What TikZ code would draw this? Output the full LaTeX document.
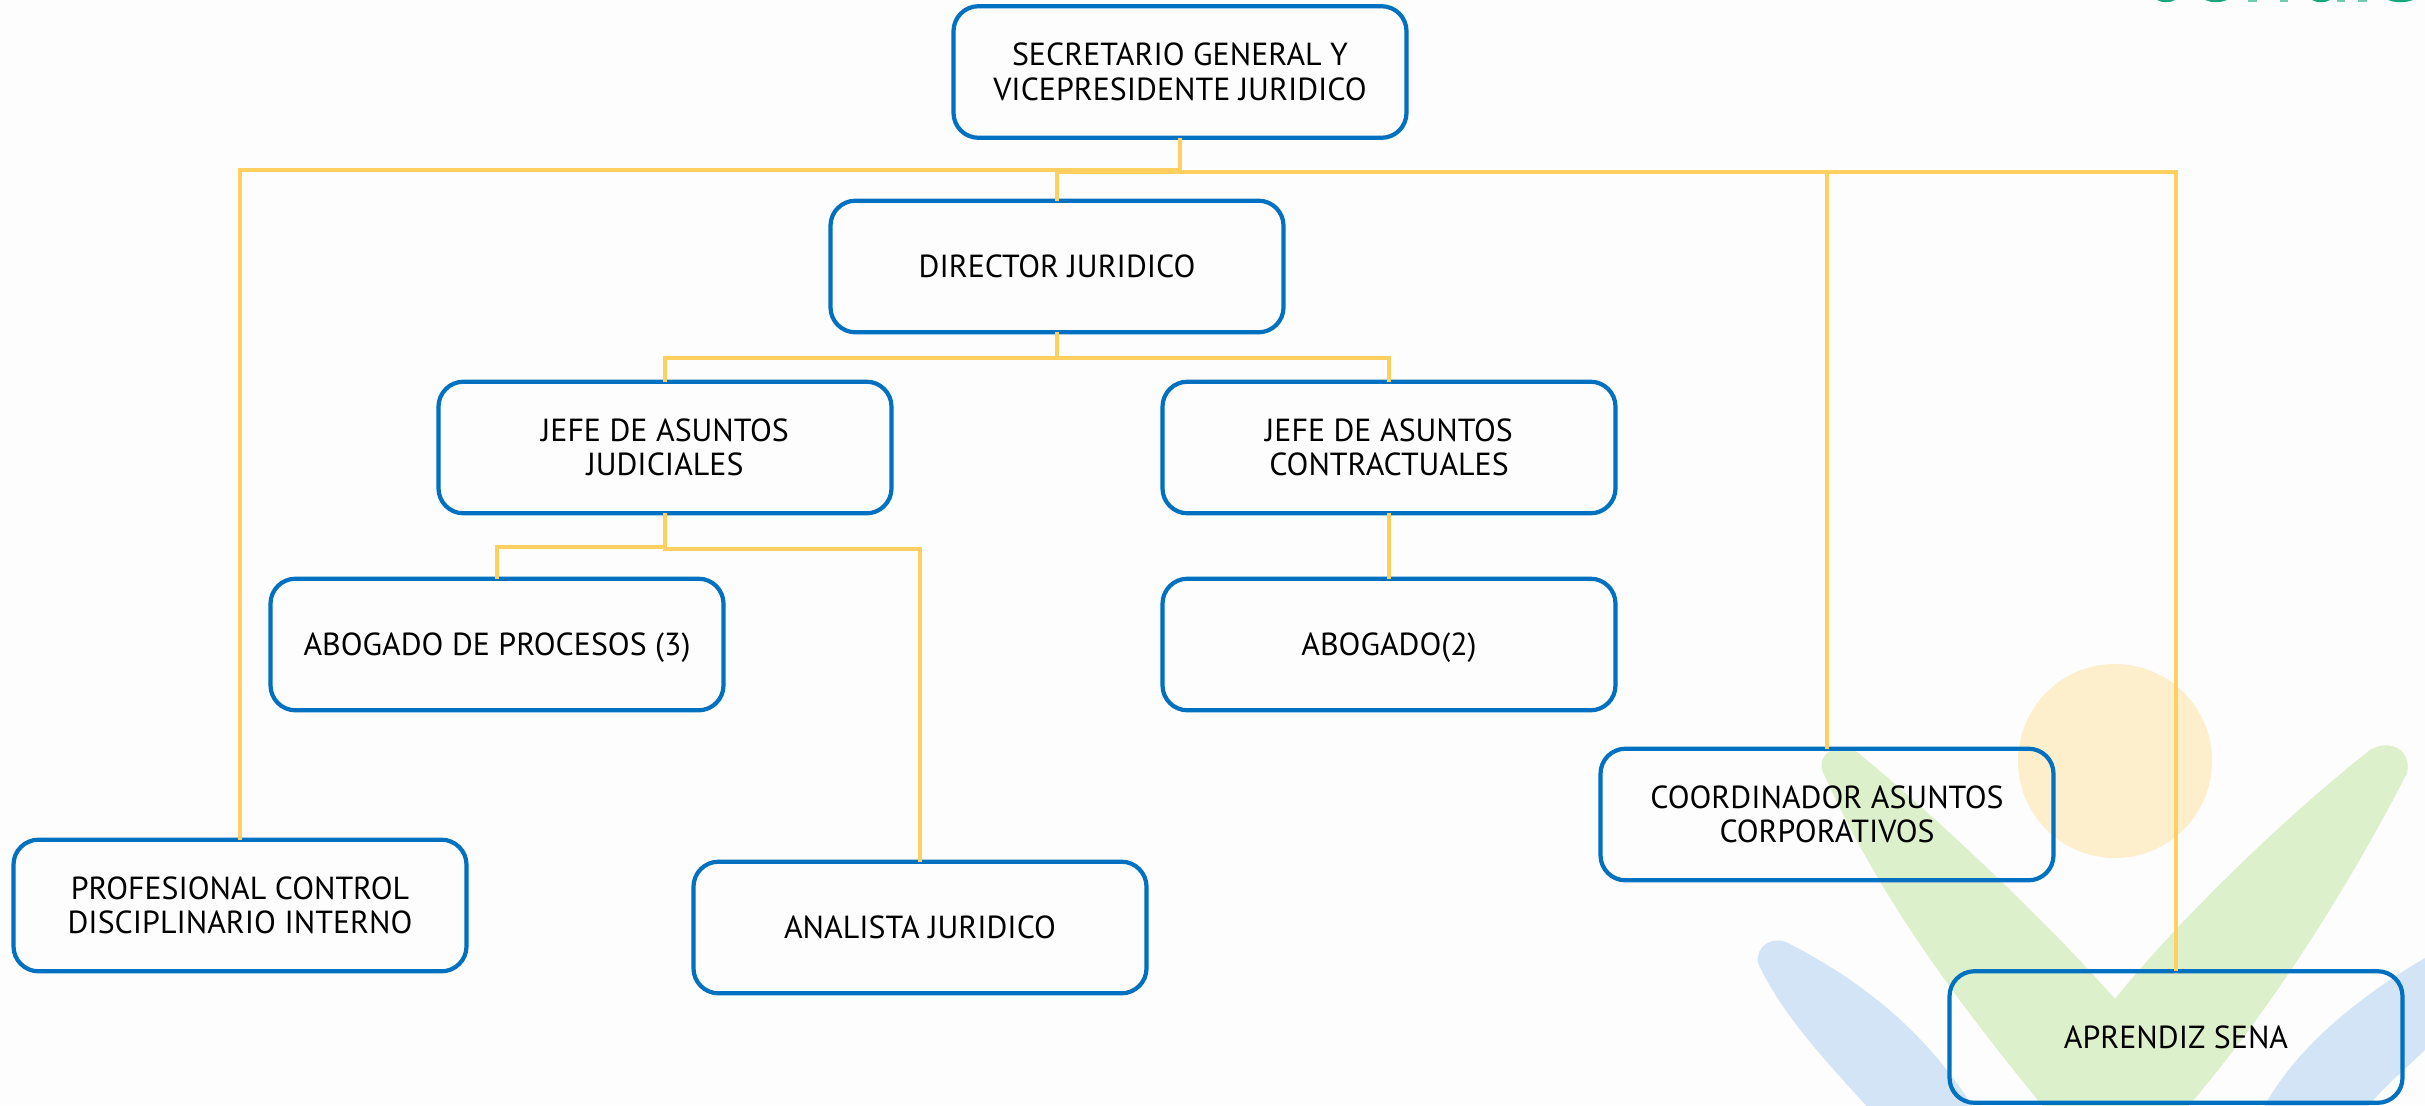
\documentclass[tikz,border=0pt]{standalone}
\usepackage{fontspec}
\setmainfont{PT Sans}
\definecolor{pagebg}{HTML}{FDFDFD}
\definecolor{boxblue}{HTML}{0070C0}
\definecolor{linegold}{HTML}{FFD05F}
\definecolor{sunfill}{HTML}{FEEFCC}
\definecolor{leafgreen}{HTML}{DCF0CB}
\definecolor{leafblue}{HTML}{D3E4F7}
\definecolor{logogreen}{HTML}{12A87C}
\tikzset{
  orgbox/.style={draw=boxblue,line width=2.1pt,rounded corners=12.5pt,minimum width=226.5pt,minimum height=65.8pt,
    inner sep=0pt,outer sep=0pt,align=center,text=black,font=\fontsize{15.95pt}{17.2pt}\selectfont},
  capline/.style={text height=11.1pt,text depth=0pt},
  conn/.style={draw=linegold,line width=2pt,line cap=butt,line join=miter},
}
\begin{document}
\begin{tikzpicture}[x=0.5pt,y=-0.5pt]
\useasboundingbox (0,0) rectangle (2425,1105);
\fill[pagebg] (0,0) rectangle (2425,1105);
\begin{scope}
\clip (0,0) rectangle (2425,1105);
% logo remnant
\fill[logogreen] (2157,0) .. controls (2162,3) and (2170,3) .. (2175,0) -- cycle;
\fill[logogreen] (2205,0) .. controls (2212,3) and (2220,3) .. (2227,0) -- cycle;
\fill[logogreen!60!white] (2248,0) rectangle (2257,1.5);
\fill[logogreen!60!white] (2280,0) rectangle (2288,1.5);
\fill[logogreen] (2312,0) .. controls (2317,3) and (2325,3) .. (2330,0) -- cycle;
\fill[logogreen!60!white] (2337,0) rectangle (2345,1.5);
\fill[logogreen!60!white] (2358,0) rectangle (2367,1.5);
\fill[logogreen] (2388,0) .. controls (2396,3) and (2405,3) .. (2413,0) -- cycle;
% emblem
\fill[sunfill] (2115,761) ellipse [x radius=97,y radius=97];
\fill[leafblue] (1758,963) .. controls (1755,947) and (1772,935) .. (1788,943)
  .. controls (1860,980) and (1925,1030) .. (1975,1110) -- (1870,1110)
  .. controls (1825,1060) and (1782,1015) .. (1758,963) -- cycle;
\fill[leafblue] (2430,955) .. controls (2370,990) and (2300,1040) .. (2262,1110)
  -- (2365,1110) .. controls (2385,1085) and (2410,1065) .. (2430,1045) -- cycle;
\fill[leafgreen] (1822,770) .. controls (1818,752) and (1838,742) .. (1857,752)
  .. controls (1940,820) and (2050,925) .. (2115,999)
  .. controls (2170,930) and (2275,825) .. (2370,750)
  .. controls (2390,738) and (2412,750) .. (2407,773)
  .. controls (2360,865) and (2280,1000) .. (2185,1110)
  -- (2046,1110) .. controls (1960,1005) and (1880,900) .. (1822,770) -- cycle;
\end{scope}
% boxes
\node[orgbox] (top) at (1180,72) {SECRETARIO GENERAL Y\\VICEPRESIDENTE JURIDICO};
\node[orgbox] (dir) at (1057,266.5) {DIRECTOR JURIDICO};
\node[orgbox] (jud) at (665,447.5) {JEFE DE ASUNTOS\\JUDICIALES};
\node[orgbox] (con) at (1389,447.5) {JEFE DE ASUNTOS\\CONTRACTUALES};
\node[orgbox,capline] (pro) at (497,644.5) {ABOGADO DE PROCESOS (3)};
\node[orgbox,capline] (abo) at (1389,644.5) {ABOGADO(2)};
\node[orgbox] (cdi) at (240,905.5) {PROFESIONAL CONTROL\\DISCIPLINARIO INTERNO};
\node[orgbox] (ana) at (920,927.5) {ANALISTA JURIDICO};
\node[orgbox] (coo) at (1827,814.5) {COORDINADOR ASUNTOS\\CORPORATIVOS};
\node[orgbox] (apr) at (2176,1037) {APRENDIZ SENA};
% bus levels
\coordinate (busL) at (0,170);
\coordinate (busR) at (0,172);
\coordinate (busD) at (0,358);
\coordinate (busJL) at (0,546.5);
\coordinate (busJR) at (0,548.5);
% connectors
\draw[conn] (top.south) -- (top.south |- busL) -| (cdi.north);
\draw[conn] (top.south) -- (top.south |- busR) -| (apr.north);
\draw[conn] (top.south |- busR) -| (dir.north);
\draw[conn] (coo.north |- busR) -- (coo.north);
\draw[conn] (dir.south) -- (dir.south |- busD) -| (jud.north);
\draw[conn] (dir.south |- busD) -| (con.north);
\draw[conn] (jud.south) -- (jud.south |- busJL) -| (pro.north);
\draw[conn] (jud.south) -- (jud.south |- busJR) -| (ana.north);
\draw[conn] (con.south) -- (abo.north);
\end{tikzpicture}
\end{document}
